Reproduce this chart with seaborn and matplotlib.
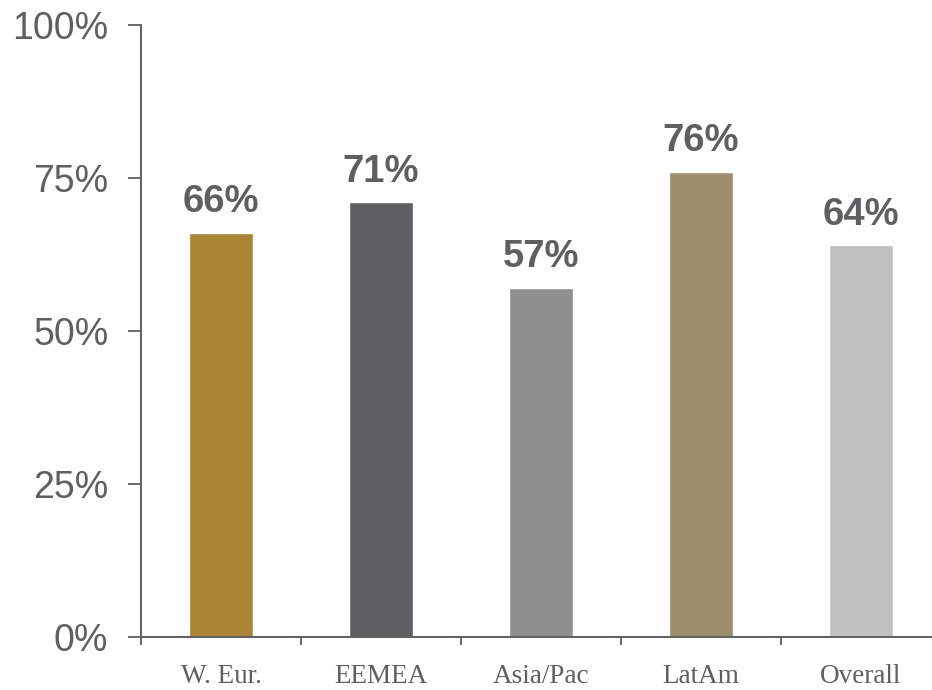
import matplotlib
matplotlib.use("Agg")
import matplotlib.pyplot as plt
import seaborn as sns
import pandas as pd
import numpy as np
from matplotlib.ticker import FixedLocator, PercentFormatter

categories = ["W. Eur.", "EEMEA", "Asia/Pac", "LatAm", "Overall"]
values = [66, 71, 57, 76, 64]
colors = ["#AB8434", "#606064", "#8E8F91", "#9E8D6B", "#C0C0C0"]
yticks = [0, 25, 50, 75, 100]

TXT = "#5f5f63"
sns.set_style("white")
plt.rcParams['font.family'] = ['Liberation Sans', 'DejaVu Sans']

df = pd.DataFrame({"cat": categories, "val": values})
fig = plt.figure(figsize=(9.32, 6.9), dpi=100)
ax = fig.add_axes([141/932, 1-637/690, 1-141/932, (637-25)/690])
sns.barplot(data=df, x="cat", y="val", hue="cat", palette=colors, width=0.4,
            legend=False, ax=ax, saturation=1)

for i, v in enumerate(values):
    ax.text(i, v + 3.4, f"{v}%", ha="center", va="baseline", fontsize=27.5,
            fontweight="bold", color=TXT)

ax.set_ylim(0, 100)
ax.set_xlim(-0.5, (932-141)/160 - 0.5)
ax.set_yticks(yticks)
ax.yaxis.set_major_formatter(PercentFormatter(decimals=0))
ax.tick_params(axis="y", direction="out", length=9.5, width=1.3, color=TXT,
               labelsize=27, labelcolor=TXT, pad=14, left=True)
ax.set_xticks(range(len(categories)))
ax.set_xticklabels(categories, family=["Liberation Serif", "DejaVu Serif"],
                   fontsize=19.5, color=TXT)
ax.tick_params(axis="x", which="major", length=0, pad=19.5, labelcolor=TXT)
ax.xaxis.set_minor_locator(FixedLocator(np.arange(-0.5, len(categories), 1.0)))
ax.tick_params(axis="x", which="minor", direction="out", length=6, width=1.3,
               color=TXT, bottom=True)
for s in ["top", "right"]:
    ax.spines[s].set_visible(False)
for s in ["left", "bottom"]:
    ax.spines[s].set_color(TXT)
    ax.spines[s].set_linewidth(1.4)
ax.set_xlabel("")
ax.set_ylabel("")
fig.savefig("out.png", dpi=100)
